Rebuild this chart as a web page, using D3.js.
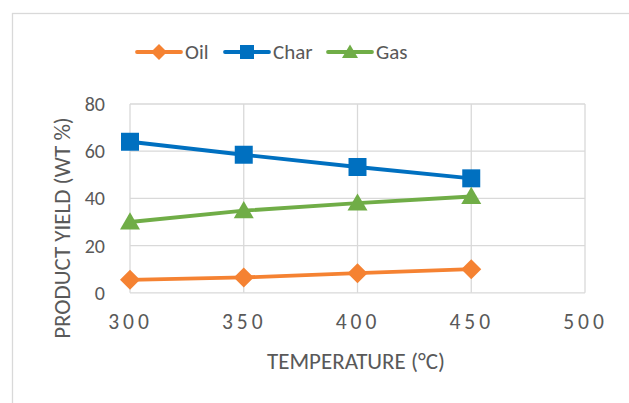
<!DOCTYPE html>
<html>
<head>
<meta charset="utf-8">
<script src="https://cdn.jsdelivr.net/npm/d3@7"></script>
<style>
  html, body { margin: 0; padding: 0; background: #fff; }
  svg { display: block; }
  text { font-family: Carlito, Calibri, Lato, "Open Sans", sans-serif; fill: #595959; }
</style>
</head>
<body>
<svg id="chart" width="629" height="403"></svg>
<script>
const temperatures = [300, 350, 400, 450];
const oilValues = [5.5, 6.5, 8.3, 10.0];
const charValues = [64.0, 58.5, 53.3, 48.5];
const gasValues = [30.0, 34.8, 38.0, 40.8];
const seriesNames = ["Oil", "Char", "Gas"];
const xTicks = [300, 350, 400, 450, 500];
const yTicks = [0, 20, 40, 60, 80];
const xTitle = "TEMPERATURE (°C)";
const yTitle = "PRODUCT YIELD (WT %)";

const colors = { Oil: "#F58232", Char: "#0070C0", Gas: "#70AD47" };
const markers = { Oil: "diamond", Char: "square", Gas: "triangle" };
const seriesData = [
  { name: "Oil", values: oilValues },
  { name: "Char", values: charValues },
  { name: "Gas", values: gasValues }
];

const FONT = "Carlito, Calibri, Lato, 'Open Sans', sans-serif";
const svg = d3.select("#chart");

// chart area border
svg.append("rect")
  .attr("x", 12.5).attr("y", 13.5)
  .attr("width", 700).attr("height", 500)
  .attr("fill", "#fff").attr("stroke", "#d9d9d9").attr("stroke-width", 1.3);

const x = d3.scaleLinear().domain([300, 500]).range([130, 585]);
const y = d3.scaleLinear().domain([0, 80]).range([292.8, 104]);

// gridlines
const grid = svg.append("g");
grid.selectAll("line.h").data(yTicks).join("line")
  .attr("x1", x(300)).attr("x2", x(500))
  .attr("y1", d => y(d)).attr("y2", d => y(d))
  .attr("stroke", "#d9d9d9").attr("stroke-width", 1.3);
grid.selectAll("line.v").data(xTicks).join("line")
  .attr("y1", y(0)).attr("y2", y(80))
  .attr("x1", d => x(d)).attr("x2", d => x(d))
  .attr("stroke", "#d9d9d9").attr("stroke-width", 1.3);

// y axis
const yAxis = svg.append("g")
  .attr("transform", `translate(${x(300)},0)`)
  .call(d3.axisLeft(y).tickValues(yTicks).tickSize(0).tickPadding(25));
yAxis.select(".domain").remove();
yAxis.selectAll("text").style("font-size", "20px").style("fill", "#595959")
  .style("font-family", FONT);

// x axis
const xAxis = svg.append("g")
  .attr("transform", `translate(0,${y(0)})`)
  .call(d3.axisBottom(x).tickValues(xTicks).tickSize(0).tickPadding(21).tickFormat(d3.format("d")));
xAxis.select(".domain").remove();
xAxis.selectAll("text").style("font-size", "21.5px").style("fill", "#595959")
  .style("letter-spacing", "4px").attr("dx", "0px")
  .style("font-family", FONT);

// titles
svg.append("text")
  .attr("x", 356).attr("y", 369)
  .attr("text-anchor", "middle")
  .style("font-size", "23px")
  .text(xTitle);
svg.append("text")
  .attr("transform", "translate(70,228) rotate(-90)")
  .attr("text-anchor", "middle")
  .style("font-size", "23px")
  .text(yTitle);

function markerPath(type, s) {
  if (type === "square") return d3.symbol().type(d3.symbolSquare).size(s * s)();
  if (type === "diamond") {
    const h = s / 2 + 1;
    return `M0,${-h}L${h},0L0,${h}L${-h},0Z`;
  }
  const h = s * 0.9;
  return `M0,${-h * 0.6}L${s / 2 + 1},${h * 0.4 + 1}L${-s / 2 - 1},${h * 0.4 + 1}Z`;
}

const line = d3.line().x((d, i) => x(temperatures[i])).y(d => y(d));

seriesData.forEach(s => {
  const g = svg.append("g");
  g.append("path").datum(s.values)
    .attr("d", line)
    .attr("fill", "none")
    .attr("stroke", colors[s.name])
    .attr("stroke-width", 3.8)
    .attr("stroke-linejoin", "round");
  g.selectAll("path.m").data(s.values).join("path")
    .attr("class", "m")
    .attr("transform", (d, i) => `translate(${x(temperatures[i])},${y(d)})`)
    .attr("d", markerPath(markers[s.name], 18))
    .attr("fill", colors[s.name]);
});

// legend
const legendPos = [137, 225, 328];
const legend = svg.append("g");
seriesNames.forEach((name, i) => {
  const lx = legendPos[i];
  const ly = 52;
  legend.append("line")
    .attr("x1", lx).attr("x2", lx + 44)
    .attr("y1", ly).attr("y2", ly)
    .attr("stroke", colors[name]).attr("stroke-width", 3.8)
    .attr("stroke-linecap", "round");
  legend.append("path")
    .attr("transform", `translate(${lx + 22},${ly})`)
    .attr("d", markerPath(markers[name], 14))
    .attr("fill", colors[name]);
  legend.append("text")
    .attr("x", lx + 48).attr("y", ly + 7)
    .style("font-size", "21px")
    .text(name);
});
</script>
</body>
</html>
